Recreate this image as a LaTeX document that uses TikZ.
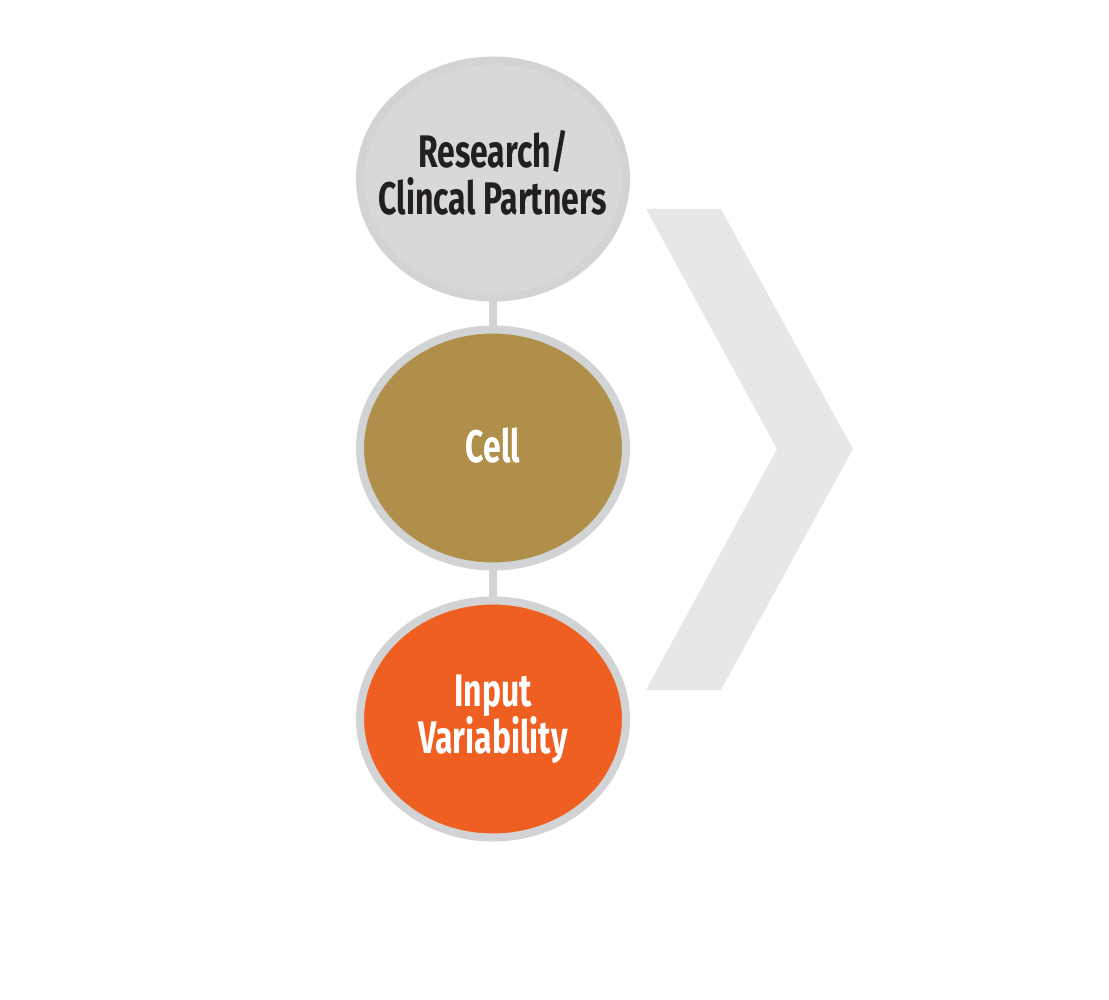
\documentclass[tikz,border=0pt]{standalone}
\usepackage{fontspec}
\usepackage{tikz}
\usetikzlibrary{shapes.geometric}
\newfontfamily\bubblefont{Fira Sans}[FakeStretch=0.7]

\definecolor{ringgray}{HTML}{D1D3D4}
\definecolor{partnergray}{HTML}{D6D9D5}
\definecolor{cellgold}{HTML}{B08F4B}
\definecolor{inputorange}{HTML}{F05F22}
\definecolor{chevrongray}{HTML}{E6E7E8}
\definecolor{textdark}{HTML}{231F20}

\tikzset{
    bubble/.style={ellipse, draw=ringgray, line width=0.16cm, inner sep=0pt,
        minimum width=5.32cm, minimum height=4.74cm},
    bubbletext/.style={align=center, inner sep=0pt,
        font=\bubblefont\bfseries\fontsize{26}{27}\selectfont},
    link/.style={draw=ringgray, line width=0.16cm}
}

\begin{document}
\begin{tikzpicture}[x=0.02cm, y=-0.02cm]
                        \useasboundingbox (0,0) rectangle (1109,1000);

                        % chevron
                        \fill[chevrongray] (646,209) -- (721,209) -- (853,449)
                            -- (721,690) -- (646,690) -- (777,449) -- cycle;

                        % bubbles
                        \node[bubble, fill=partnergray,
                            label={[bubbletext, text=textdark, yshift=0.12cm]center:{Research/\\Clincal Partners}}]
                            (partners) at (493,179) {};
                        \node[bubble, fill=cellgold,
                            label={[bubbletext, text=white, yshift=0.04cm]center:Cell}]
                            (cell) at (493,448) {};
                        \node[bubble, fill=inputorange,
                            label={[bubbletext, text=white]center:{Input\\Variability}}]
                            (input) at (493,719) {};

                        % links
                        \draw[link] (partners.south) -- (cell.north);
                        \draw[link] (cell.south) -- (input.north);
                    \end{tikzpicture}
\end{document}
